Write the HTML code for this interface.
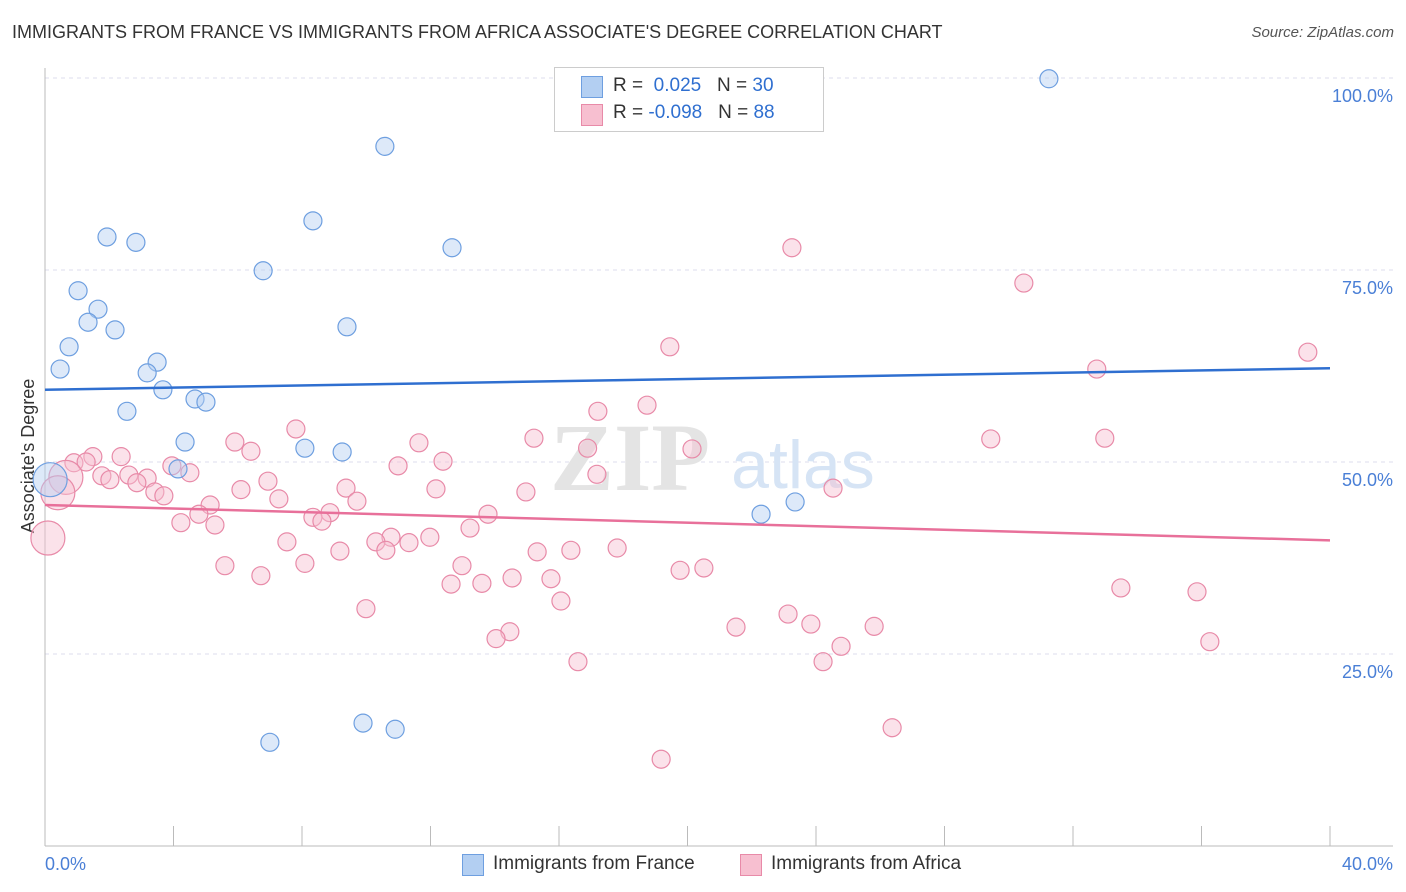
<!DOCTYPE html>
<html><head><meta charset="utf-8">
<style>
body{margin:0;background:#fff;font-family:"Liberation Sans",sans-serif;}
#wrap{position:relative;width:1406px;height:892px;overflow:hidden;}
.t{position:absolute;white-space:nowrap;}
</style></head>
<body>
<div id="wrap">
<div class="t" style="left:12px;top:22px;font-size:18px;color:#333;">IMMIGRANTS FROM FRANCE VS IMMIGRANTS FROM AFRICA ASSOCIATE'S DEGREE CORRELATION CHART</div>
<div class="t" style="right:12px;top:24px;font-size:15px;color:#555;font-style:italic;">Source: ZipAtlas.com</div>
<svg id="svg" width="1406" height="892" style="position:absolute;left:0;top:0"></svg>
</div>
<script>
const yTicks=[25,50,75,100];
const yTickLabels=["25.0%","50.0%","75.0%","100.0%"];
const xTickLabels=["0.0%","40.0%"];
const franceX=[31.25,10.58,8.34,1.93,2.83,12.67,6.79,1.03,1.65,1.34,2.18,9.40,0.75,0.47,3.49,3.18,3.67,4.67,5.01,2.55,4.36,8.09,9.25,4.14,0.16,23.35,22.29,9.9,10.9,7.0];
const franceY=[99.9,91.1,81.4,79.3,78.6,77.9,74.9,72.3,69.9,68.2,67.2,67.6,65.0,62.1,63.0,61.6,59.4,58.2,57.8,56.6,52.6,51.8,51.3,49.1,47.7,44.8,43.2,16.0,15.2,13.5];
const africaX=[23.25,30.47,19.45,39.31,32.74,18.74,17.21,7.81,15.22,29.44,32.99,5.91,11.64,16.89,20.14,6.41,2.37,1.49,0.90,1.28,12.39,10.99,3.95,4.51,17.18,0.65,1.77,2.61,3.18,2.02,6.94,2.86,9.37,24.53,12.17,6.10,14.97,3.42,3.70,0.40,7.28,9.71,5.14,4.79,8.87,8.34,13.79,8.62,4.23,5.29,13.23,0.09,11.98,10.77,10.30,11.33,7.53,10.61,9.18,15.32,16.37,17.81,8.09,5.60,12.98,19.77,20.51,6.72,14.54,15.75,13.60,12.64,33.49,35.86,16.06,9.99,23.13,21.51,23.84,25.81,14.47,14.04,36.26,24.78,16.59,24.22,26.37,19.18];
const africaY=[77.9,73.3,65.0,64.3,62.1,57.4,56.6,54.3,53.1,53.0,53.1,52.6,52.5,51.8,51.7,51.4,50.7,50.7,49.9,50.0,50.1,49.5,49.5,48.6,48.4,48.0,48.2,48.3,47.9,47.7,47.5,47.3,46.6,46.6,46.5,46.4,46.1,46.1,45.6,46.0,45.2,44.9,44.4,43.2,43.4,42.8,43.2,42.3,42.1,41.8,41.4,40.1,40.2,40.2,39.6,39.5,39.6,38.5,38.4,38.3,38.5,38.8,36.8,36.5,36.5,35.9,36.2,35.2,34.9,34.8,34.2,34.1,33.6,33.1,31.9,30.9,30.2,28.5,28.9,28.6,27.9,27.0,26.6,26.0,24.0,24.0,15.4,11.3];
const franceBig=[24];
const africaBig=[25,39,51];
const franceTrend=[59.4,62.2];
const africaTrend=[44.4,39.8];
const NS="http://www.w3.org/2000/svg";
const svg=document.getElementById('svg');
const X=v=>45+v/40*1285, Y=v=>846-v/100*768;
function mk(t,a){const e=document.createElementNS(NS,t);for(const k in a)e.setAttribute(k,a[k]);svg.appendChild(e);return e;}
yTicks.forEach((v,i)=>{
 const g=mk('line',{x1:45,x2:1393,y1:Y(v),y2:Y(v),stroke:'#dde',"stroke-dasharray":'4,4'});
 
 
 const t=mk('text',{x:1393,y:Y(v)+24,"text-anchor":'end',fill:'#4a7fd6',"font-size":18,"font-family":'Liberation Sans'});
 t.textContent=yTickLabels[i];
 
 
});
mk('line',{x1:45,x2:45,y1:68,y2:846,stroke:'#bbb'});
mk('line',{x1:45,x2:1393,y1:846,y2:846,stroke:'#bbb'});
for(let i=0;i<=10;i++){const tk=mk('line',{x1:X(i*4),x2:X(i*4),y1:826,y2:846,stroke:'#bbb'});
 
 }
[[xTickLabels[0],45,'start'],[xTickLabels[1],1393,'end']].forEach(a=>{const t=mk('text',{x:a[1],y:870,"text-anchor":a[2],fill:'#4a7fd6',"font-size":18,"font-family":'Liberation Sans'});t.textContent=a[0];
 
 });
const yt=mk('text',{x:34,y:456,transform:'rotate(-90 34 456)',"text-anchor":'middle',fill:'#333',"font-size":18,"font-family":'Liberation Sans'});yt.textContent="Associate's Degree";


const w1=mk('text',{x:630,y:490,"text-anchor":'middle',fill:'#e4e4e4',"font-size":96,"font-family":'Liberation Serif',"font-weight":'bold'});w1.textContent='ZIP';


const w2=mk('text',{x:803,y:488,"text-anchor":'middle',fill:'#d6e4f5',"font-size":68,"font-family":'Liberation Sans'});w2.textContent='atlas';


function pts(xs,ys,big,fill,stroke,name){xs.forEach((x,i)=>{const r=big.includes(i)?17:9;const c=mk('circle',{cx:X(x),cy:Y(ys[i]),r:r,fill:fill,"fill-opacity":0.45,stroke:stroke,"stroke-width":1.2});
 
 });}
pts(africaX,africaY,africaBig,'#f7bfd0','#e88aa8','africa-point');
pts(franceX,franceY,franceBig,'#b3cff2','#6e9fe0','france-point');
const l1=mk('line',{x1:X(0),x2:X(40),y1:Y(franceTrend[0]),y2:Y(franceTrend[1]),stroke:'#2f6fd0',"stroke-width":2.5});


const l2=mk('line',{x1:X(0),x2:X(40),y1:Y(africaTrend[0]),y2:Y(africaTrend[1]),stroke:'#e8709a',"stroke-width":2.5});


</script>
<div class="t" style="left:554px;top:67px;width:268px;height:63px;border:1px solid #ccc;background:#fff;">
 <div class="t" style="left:26px;top:8px;width:20px;height:20px;background:#b3cff2;border:1px solid #6e9fe0;"></div>
 <div class="t" style="left:58px;top:7px;font-size:19px;color:#333;">R = &nbsp;<span style="color:#2f6fd0">0.025</span> &nbsp;&nbsp;N = <span style="color:#2f6fd0">30</span></div>
 <div class="t" style="left:26px;top:36px;width:20px;height:20px;background:#f7bfd0;border:1px solid #e88aa8;"></div>
 <div class="t" style="left:58px;top:34px;font-size:19px;color:#333;">R = <span style="color:#2f6fd0">-0.098</span> &nbsp;&nbsp;N = <span style="color:#2f6fd0">88</span></div>
</div>
<div class="t" style="left:462px;top:854px;width:20px;height:20px;background:#b3cff2;border:1px solid #6e9fe0;"></div>
<div class="t" style="left:493px;top:853px;font-size:19px;color:#333;">Immigrants from France</div>
<div class="t" style="left:740px;top:854px;width:20px;height:20px;background:#f7bfd0;border:1px solid #e88aa8;"></div>
<div class="t" style="left:771px;top:853px;font-size:19px;color:#333;">Immigrants from Africa</div>
</body></html>
